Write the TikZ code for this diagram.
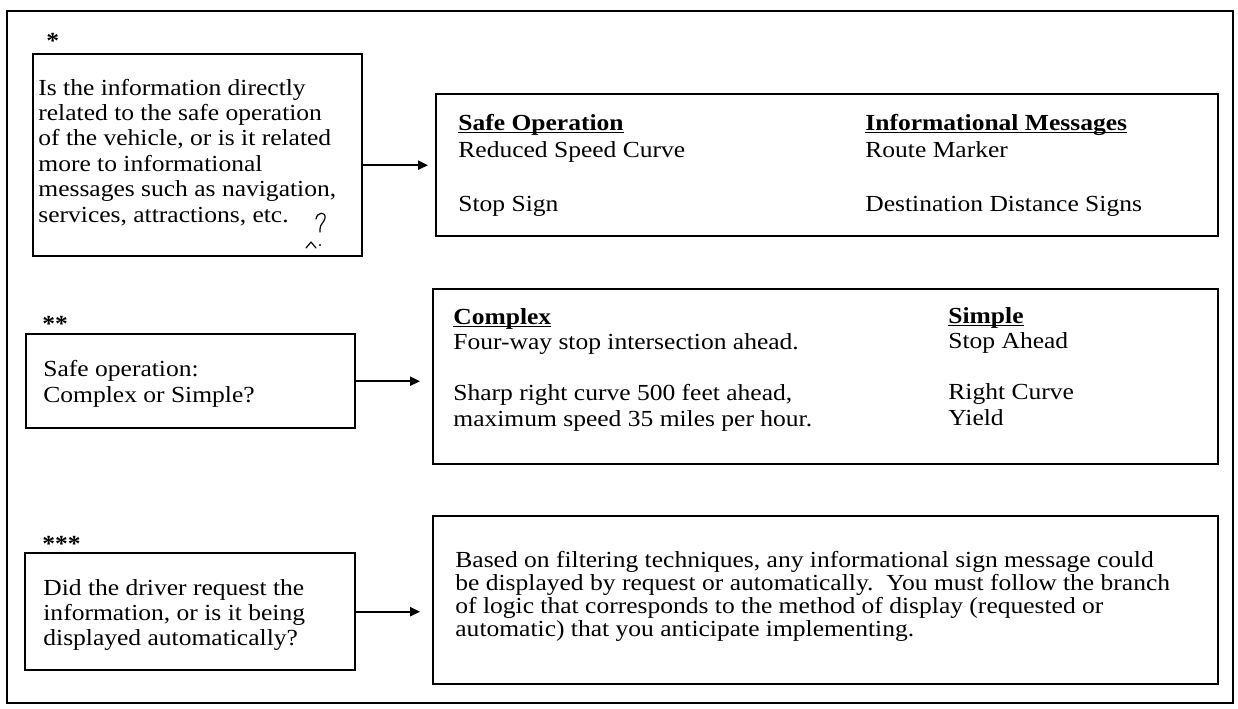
\documentclass[tikz,border=0pt]{standalone}
\usepackage{fontspec}
\setmainfont[FakeStretch=1.11]{Liberation Serif}
\usetikzlibrary{arrows.meta}

% a block of left-aligned lines whose first baseline is the node's base
\newcommand{\txtblock}[2]{{\fontsize{11.5}{#1}\selectfont\begin{tabular}[t]{@{}l@{}}#2\end{tabular}}}
% bold heading with a close underline
\newcommand{\ulhead}[1]{\setbox0=\hbox{\bfseries #1}\rlap{\rule[-1.4pt]{\wd0}{0.6pt}}\box0}

\begin{document}
\begin{tikzpicture}[x=0.5pt,y=-0.5pt,
  box/.style={draw, line width=1.2pt, rectangle, inner sep=0pt, anchor=north west},
  txt/.style={anchor=base west, inner sep=0pt},
  stars/.style={anchor=base west, inner sep=0pt, font=\fontsize{11.5}{13}\selectfont\bfseries},
  arr/.style={line width=1pt, -{Triangle[length=5pt,width=4.6pt]}},
  frame/.style={draw, line width=0.9pt},
  pen/.style={line width=0.6pt, line cap=round, line join=round}]

\useasboundingbox (0,0) rectangle (1238,708);
\draw[frame] (7,11) rectangle (1233,703);

% question boxes (left) and answer boxes (right)
\node[box, minimum width=164.5pt, minimum height=101pt] (b1) at (32,53) {};
\node[box, minimum width=391pt,   minimum height=71pt]  (b2) at (435,93) {};
\node[box, minimum width=164.5pt, minimum height=47pt]  (b3) at (25,333) {};
\node[box, minimum width=392.5pt, minimum height=87.5pt] (b4) at (432,288) {};
\node[box, minimum width=165pt,   minimum height=58.5pt] (b5) at (24,552) {};
\node[box, minimum width=392.5pt, minimum height=84pt]  (b6) at (432,515) {};

% step markers
\node[stars] (s1) at (46,48) {*};
\node[stars] (s2) at (42,331) {**};
\node[stars] (s3) at (42,551) {***};

% connectors
\draw[arr, shorten >=3.5pt] (b1.east |- b2.west) -- (b2.west);
\draw[arr, shorten >=6pt] (b3.east) -- (b4.west |- b3.east);
\draw[arr, shorten >=6pt] (b5.east) -- (b6.west |- b5.east);

% texts
\node[txt] (q1) at (38,95) {\txtblock{12.7pt}{Is the information directly\\
  related to the safe operation\\
  of the vehicle, or is it related\\
  more to informational\\
  messages such as navigation,\\
  services, attractions, etc.}};

\node[txt] (so) at (458,130) {\txtblock{13.5pt}{\ulhead{Safe Operation}\\
  Reduced Speed Curve\\ \\ Stop Sign}};
\node[txt] (im) at (865,130) {\txtblock{13.5pt}{\ulhead{Informational Messages}\\
  Route Marker\\ \\ Destination Distance Signs}};

\node[txt] (q2) at (43,376) {\txtblock{13pt}{Safe operation:\\ Complex or Simple?}};

\node[txt] (cx) at (453,324) {\txtblock{12.75pt}{\ulhead{Complex}\\
  Four-way stop intersection ahead.\\ \\
  Sharp right curve 500 feet ahead,\\
  maximum speed 35 miles per hour.}};
\node[txt] (sp) at (948,323) {\txtblock{12.75pt}{\ulhead{Simple}\\
  Stop Ahead\\ \\ Right Curve\\ Yield}};

\node[txt] (q3) at (43,595) {\txtblock{12.5pt}{Did the driver request the\\
  information, or is it being\\
  displayed automatically?}};

\node[txt] (ft) at (455,567) {\txtblock{11.6pt}{Based on filtering techniques, any informational sign message could\\
  be displayed by request or automatically.\ \ You must follow the branch\\
  of logic that corresponds to the method of display (requested or\\
  automatic) that you anticipate implementing.}};

% handwritten query mark after "etc."
\draw[pen] (316,219) .. controls (317,212) and (326,211) .. (325,218)
  .. controls (324,223) and (320,224) .. (320,229) -- (320,232);
\draw[pen] (306,248) -- (311,242) -- (316,248);
\fill (320,245) circle (0.6pt);
\end{tikzpicture}
\end{document}
